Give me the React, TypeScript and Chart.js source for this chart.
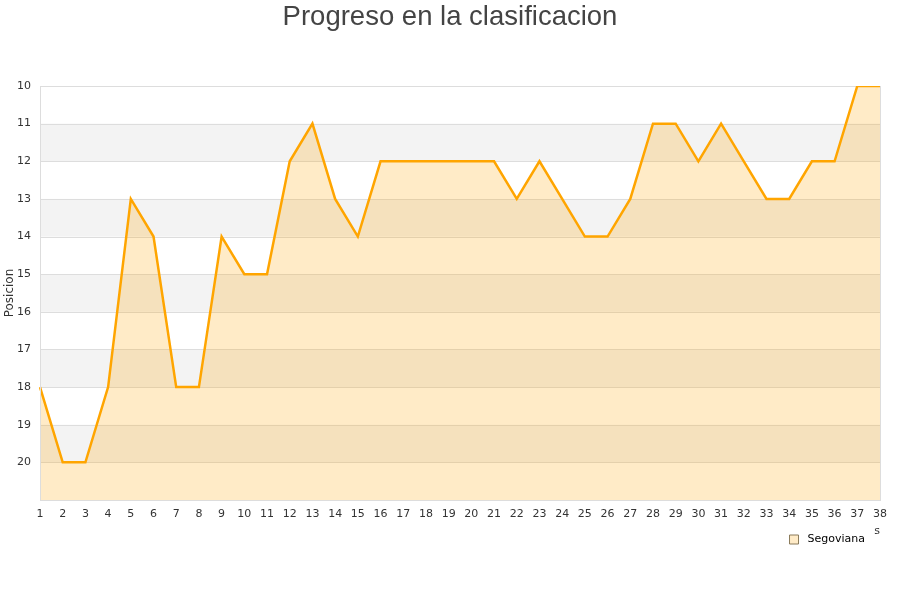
import React, { useEffect, useRef } from "react";
import { Chart, registerables } from "chart.js";

Chart.register(...registerables);

const jornadas: string[] = Array.from({ length: 38 }, (_, i) => String(i + 1));
const posiciones: number[] = [
  18, 20, 20, 18, 13, 14, 18, 18, 14, 15, 15, 12, 11, 13, 14, 12, 12, 12, 12, 12,
  12, 13, 12, 13, 14, 14, 13, 11, 11, 12, 11, 12, 13, 13, 12, 12, 10, 10,
];
const yTickValues: number[] = [10, 11, 12, 13, 14, 15, 16, 17, 18, 19, 20];
const titleText = "Progreso en la clasificacion";
const seriesName = "Segoviana";
const yTitle = "Posicion";
const xTitle = "s";

const bandsPlugin = {
  id: "bands",
  beforeDatasetsDraw(chart: any) {
    const { ctx, chartArea, scales } = chart;
    const y = scales.y;
    ctx.save();
    ctx.fillStyle = "#f3f3f3";
    for (let v = 11; v < 21; v += 2) {
      const a = y.getPixelForValue(v);
      const b = y.getPixelForValue(v + 1);
      ctx.fillRect(chartArea.left, Math.min(a, b), chartArea.right - chartArea.left, Math.abs(b - a));
    }
    ctx.strokeStyle = "#dddddd";
    ctx.lineWidth = 1;
    for (let v = 10; v <= 21; v++) {
      const p = Math.round(y.getPixelForValue(v)) + 0.5;
      ctx.beginPath();
      ctx.moveTo(chartArea.left, p);
      ctx.lineTo(chartArea.right, p);
      ctx.stroke();
    }
    ctx.restore();
  },
  afterDraw(chart: any) {
    const { ctx, chartArea } = chart;
    ctx.save();
    ctx.strokeStyle = "#dddddd";
    ctx.lineWidth = 1;
    ctx.beginPath();
    ctx.moveTo(Math.round(chartArea.right) + 0.5, chartArea.top);
    ctx.lineTo(Math.round(chartArea.right) + 0.5, chartArea.bottom);
    ctx.moveTo(Math.round(chartArea.left) + 0.5, chartArea.top);
    ctx.lineTo(Math.round(chartArea.left) + 0.5, chartArea.bottom);
    ctx.stroke();
    ctx.restore();
  },
};

const layoutShiftPlugin = {
  id: "layoutShift",
  afterLayout(chart: any) {
    const lg = chart.legend;
    if (lg) {
      lg.left -= 7;
      lg.right -= 7;
      lg.top -= 4;
      lg.bottom -= 4;
    }
    const tb = chart.titleBlock;
    if (tb) {
      tb.left += 10;
      tb.right += 10;
      tb.top += 1;
      tb.bottom += 1;
    }
  },
};

export default function App() {
  const ref = useRef<HTMLCanvasElement | null>(null);
  useEffect(() => {
    if (!ref.current) return;
    const chart = new Chart(ref.current, {
      type: "line",
      data: {
        labels: jornadas,
        datasets: [
          {
            label: seriesName,
            data: posiciones,
            borderColor: "#ffa500",
            backgroundColor: "rgba(255,165,0,0.22)",
            borderWidth: 2.5,
            pointRadius: 0,
            pointHoverRadius: 0,
            tension: 0,
            fill: { value: 21 },
          },
        ],
      },
      options: {
        responsive: false,
        animation: false,
        layout: { padding: { left: 0, right: 20, top: 0, bottom: 41 } },
        plugins: {
          title: {
            display: true,
            text: titleText,
            color: "#444444",
            font: { family: "Liberation Sans", size: 27.5, weight: "normal" },
            padding: { top: 0, bottom: 53 },
          },
          legend: {
            display: true,
            position: "bottom",
            align: "end",
            labels: {
              color: "#222222",
              font: { family: "DejaVu Sans", size: 11 },
              boxWidth: 9,
              boxHeight: 9,
              padding: 8,
              generateLabels: () => [
                {
                  text: " " + seriesName,
                  fillStyle: "rgba(255,165,0,0.22)",
                  strokeStyle: "#8a7a5a",
                  lineWidth: 1,
                  hidden: false,
                  datasetIndex: 0,
                } as any,
              ],
            },
          },
          tooltip: { enabled: false },
        },
        scales: {
          x: {
            type: "category",
            offset: false,
            grid: { display: false, drawTicks: false },
            border: { display: true, color: "#dddddd" },
            ticks: {
              color: "#333333",
              font: { family: "DejaVu Sans", size: 11 },
              padding: 8,
              maxRotation: 0,
              autoSkip: false,
            },
            title: {
              display: true,
              text: xTitle,
              align: "end",
              color: "#333333",
              font: { family: "DejaVu Sans", size: 11 },
              padding: { top: 0, bottom: -8 },
            },
            afterFit: (s: any) => {
              s.height = 30;
            },
          },
          y: {
            type: "linear",
            reverse: true,
            min: 10,
            max: 21,
            grid: { display: false, drawTicks: false },
            border: { display: false },
            afterBuildTicks: (s: any) => {
              s.ticks = [...yTickValues, 21].map((v) => ({ value: v }));
            },
            ticks: {
              stepSize: 1,
              color: "#333333",
              font: { family: "DejaVu Sans", size: 11 },
              padding: 9,
              callback: (v: any) => (Number(v) === 21 ? "" : String(v)),
            },
            title: {
              display: true,
              text: yTitle,
              color: "#333333",
              font: { family: "DejaVu Sans", size: 12 },
              padding: { top: 3, bottom: 0 },
            },
            afterFit: (s: any) => {
              s.width = 40;
            },
          },
        },
      },
      plugins: [bandsPlugin, layoutShiftPlugin],
    });
    return () => chart.destroy();
  }, []);
  return (
    <div style={{ position: "fixed", left: 0, top: 0, width: 900, height: 600, background: "#fff" }}>
      <canvas ref={ref} width={900} height={600} style={{ width: 900, height: 600 }} />
    </div>
  );
}
